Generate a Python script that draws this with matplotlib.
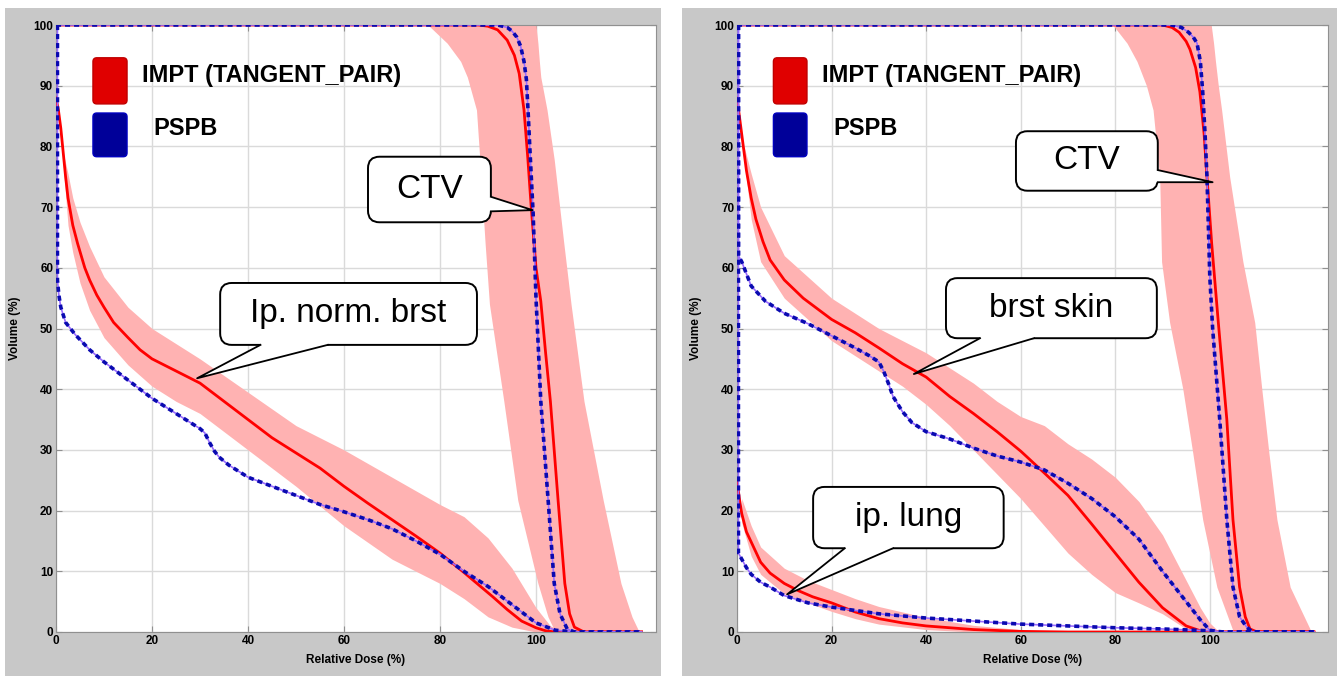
import matplotlib
matplotlib.use("Agg")
import matplotlib.pyplot as plt
from matplotlib import font_manager
from matplotlib.patches import FancyBboxPatch, Rectangle, Polygon

# ---- data (dose in %, volume in %) ----
# left panel: ipsilateral normal breast
L_BRST_DOSE_IMPT = [0, 0.5, 1, 1.5, 2, 2.5, 3.5, 4.5, 6, 7, 8.5, 10, 12, 15, 17.5, 20, 25, 30, 35, 40, 45, 50, 55, 60, 65, 70, 75, 80, 85, 88, 91, 94, 97, 100, 102, 104, 110, 122]
L_BRST_IMPT = [88, 86, 83, 79, 75, 71.5, 67, 64, 60, 58, 55.5, 53.5, 51, 48.5, 46.5, 45, 43, 41, 38, 35, 32, 29.5, 27, 24, 21.2, 18.5, 15.8, 13, 9.8, 7.8, 5.8, 3.7, 1.8, 0.7, 0.2, 0, 0, 0]
L_BRST_BAND_DOSE = [1.5, 2.5, 3.5, 5, 7, 10, 15, 20, 25, 30, 40, 50, 60, 70, 80, 85, 90, 95, 100, 103, 106]
L_BRST_UPPER = [79, 75.5, 71.5, 67.5, 63.5, 58.5, 53.5, 50, 47.5, 45, 39.5, 34, 30, 25.5, 21, 19, 15.5, 10.5, 4, 1, 0]
L_BRST_LOWER = [77, 67, 62.5, 57.5, 53, 48.5, 44, 40.5, 38, 36, 30, 24, 17.5, 12, 8, 5.5, 2.5, 0.8, 0, 0, 0]
L_BRST_DOSE_PSPB = [0.3, 0.3, 0.6, 1, 2, 4, 7, 10, 15, 20, 25, 28, 30, 31, 32, 33, 34, 36, 40, 45, 50, 55, 60, 65, 70, 75, 80, 85, 90, 95, 100, 104, 108, 122]
L_BRST_PSPB = [100, 58, 55.5, 53.5, 51, 49, 46.5, 44.5, 41.5, 38.5, 36, 34.5, 33.5, 32.8, 31.2, 29.8, 28.8, 27.5, 25.5, 24, 22.5, 21, 19.8, 18.5, 17, 15, 12.8, 10, 7.5, 4.5, 1.5, 0.3, 0, 0]

# left panel: CTV
L_CTV_DOSE_IMPT = [0, 88, 90, 92, 94, 95.5, 96.5, 97.5, 98.3, 99, 100, 101, 102, 103, 104.6, 106, 107, 108, 110, 122]
L_CTV_IMPT = [100, 100, 99.8, 99.2, 97.5, 95, 92, 86, 78, 70, 60, 54.5, 46, 38, 21.7, 8, 3, 0.8, 0, 0]
L_CTV_DOSE_PSPB = [0, 92, 94, 95, 96, 96.8, 97.5, 98, 98.4, 98.7, 99.4, 100, 101, 102.5, 103.8, 105, 106.5, 108, 122]
L_CTV_PSPB = [100, 100, 99.6, 99, 98, 96.5, 94, 91, 85, 80, 69, 55, 38, 22, 8, 3, 0.5, 0, 0]
L_CTV_BAND_VOL = [100, 97, 94, 91.4, 86, 77.8, 64, 54, 38, 21.7, 8, 2.5, 0]
L_CTV_BAND_LEFT = [77.5, 81.5, 84.3, 85.7, 87.6, 88.3, 89.4, 90.3, 93.3, 96.2, 100.4, 102.5, 104]
L_CTV_BAND_RIGHT = [100, 100.4, 100.7, 101, 102.3, 103.8, 105.8, 107.3, 110, 114, 117.7, 120, 121.5]

# right panel: breast skin
R_SKIN_DOSE_IMPT = [0, 0.5, 1, 2, 3, 4, 5.5, 7, 10, 14, 20, 25, 30, 35, 40, 45, 50, 55, 60, 65, 70, 75, 80, 85, 90, 95, 98, 100, 122]
R_SKIN_IMPT = [88, 85, 82, 76, 71.5, 68, 64.3, 61.3, 58, 55, 51.5, 49.3, 46.8, 44.2, 42, 38.8, 36, 33, 29.8, 26.2, 22.5, 17.8, 13, 8.2, 4, 1, 0.2, 0, 0]
R_SKIN_BAND_DOSE = [1.5, 3, 5, 10, 15, 20, 25, 30, 35, 40, 45, 50, 55, 60, 65, 70, 75, 80, 85, 90, 95, 98, 100, 102]
R_SKIN_UPPER = [80, 75.5, 70, 62, 58.5, 55, 52.5, 50, 48, 46, 43.5, 41, 38, 35.5, 34, 31, 28.5, 25.5, 21.5, 16, 8.5, 4, 1.5, 0]
R_SKIN_LOWER = [78, 68, 61, 55, 51.5, 48, 45.5, 43, 40.5, 37.5, 34, 30, 26, 22, 17.5, 13, 9.5, 6.5, 4.8, 3, 0.5, 0, 0, 0]
R_SKIN_DOSE_PSPB = [0.3, 0.3, 1, 2, 3, 6, 10, 15, 20, 25, 28, 30, 31, 32, 33, 35, 37, 40, 45, 50, 55, 60, 65, 70, 75, 80, 85, 90, 95, 98, 100, 102, 122]
R_SKIN_PSPB = [100, 62, 61, 59, 57, 54.5, 52.5, 50.8, 48.8, 46.8, 45.5, 44.5, 43, 41, 38.8, 36.3, 34.5, 33, 31.8, 30.3, 29, 28, 26.7, 24.5, 22, 19, 15.3, 10, 5, 2, 0.3, 0, 0]

# right panel: ipsilateral lung
R_LUNG_DOSE_IMPT = [0, 0.5, 1, 2, 3.5, 5, 7, 10, 13, 16, 20, 25, 30, 35, 40, 50, 60, 70, 122]
R_LUNG_IMPT = [25, 22, 19.5, 16.5, 14, 11.5, 9.7, 8, 6.8, 5.8, 4.8, 3.3, 2.2, 1.5, 1, 0.4, 0.1, 0, 0]
R_LUNG_BAND_DOSE = [1, 3, 5, 10, 15, 20, 25, 30, 40, 50, 60, 70]
R_LUNG_UPPER = [22, 17.5, 14, 10.5, 8.5, 7, 5.5, 4.2, 2.4, 1.1, 0.4, 0]
R_LUNG_LOWER = [18, 12.5, 9.5, 6.3, 4.8, 3.4, 2.2, 1.3, 0.4, 0, 0, 0]
R_LUNG_DOSE_PSPB = [0.3, 0.3, 1, 2, 3, 5, 7, 10, 15, 20, 30, 40, 50, 60, 70, 80, 90, 100, 103, 122]
R_LUNG_PSPB = [100, 13, 12, 10.6, 9.5, 8.2, 7.4, 6, 4.8, 4.1, 3, 2.3, 1.8, 1.3, 1, 0.7, 0.5, 0.2, 0, 0]

# right panel: CTV
R_CTV_DOSE_IMPT = [0, 90, 92, 93.5, 95, 95.8, 97, 97.9, 98.8, 99.4, 100.4, 101.8, 103.6, 104.9, 106.3, 107.5, 108.5, 110, 122]
R_CTV_IMPT = [100, 100, 99.6, 98.8, 97.3, 96, 93, 89, 82, 75, 64, 51, 35, 18.5, 7.4, 2.5, 0.5, 0, 0]
R_CTV_DOSE_PSPB = [0, 92, 94, 95.5, 96.5, 97.3, 98, 98.5, 99, 99.4, 100, 100.6, 102.1, 103.6, 104.9, 106.3, 107.8, 109, 122]
R_CTV_PSPB = [100, 100, 99.6, 98.8, 98, 97, 94, 89, 82, 75, 58.5, 50, 35, 18.5, 7.4, 2.5, 0.8, 0, 0]
R_CTV_BAND_VOL = [100, 97, 94, 90, 86, 75, 61, 51, 40, 29.5, 18.5, 7.4, 0]
R_CTV_BAND_LEFT = [79.5, 82.5, 84.6, 86.6, 88, 89.4, 89.8, 91.5, 94.3, 96.4, 98.5, 101.5, 105]
R_CTV_BAND_RIGHT = [100.3, 100.8, 101.2, 101.8, 102.5, 104.2, 107, 109.5, 111, 112.5, 114.2, 117, 121.5]

X_TICKS = [0, 20, 40, 60, 80, 100]
Y_TICKS = list(range(0, 101, 10))
LEGEND_LABELS = ["IMPT (TANGENT_PAIR)", "PSPB"]

RED = "#ff0000"
BAND = "#ffb2b2"
BLUE = "#0a0ab0"
VIOLET = "#9a6cff"
ASPECT = 4.79 / 6.07  # x-unit px / y-unit px

names = {f.name for f in font_manager.fontManager.ttflist}
NARROW = "Liberation Sans Narrow" if "Liberation Sans Narrow" in names else "Liberation Sans"
plt.rcParams["font.family"] = ["Liberation Sans", "DejaVu Sans"]


def pspb(ax, x, y):
    ax.plot(x, y, color=VIOLET, lw=1.2, zorder=4)
    ax.plot(x, y, color=BLUE, lw=2.6, dashes=(1.4, 1.1), zorder=4)


def callout(ax, text, box, tip, base, side):
    x0, x1, y0, y1 = box
    ax.add_patch(FancyBboxPatch((x0, y0), x1 - x0, y1 - y0,
                                boxstyle="round,pad=0,rounding_size=2.4",
                                mutation_aspect=ASPECT, fc="white", ec="black",
                                lw=1.4, zorder=6))
    if side == "bottom":
        a, b = (base[0], y0), (base[1], y0)
        cover = [(base[0], y0 + 0.8), a, tip, b, (base[1], y0 + 0.8)]
    else:
        a, b = (x1, base[1]), (x1, base[0])
        cover = [(x1 - 0.6, base[1]), a, tip, b, (x1 - 0.6, base[0])]
    ax.add_patch(Polygon(cover, closed=True, fc="white", ec="none", zorder=7))
    ax.plot([a[0], tip[0], b[0]], [a[1], tip[1], b[1]], color="black", lw=1.3, zorder=8)
    ax.text((x0 + x1) / 2, (y0 + y1) / 2, text, fontsize=24, ha="center",
            va="center", zorder=9)


def setup(ax):
    ax.set_xlim(0, 125)
    ax.set_ylim(0, 100)
    ax.set_xticks(X_TICKS)
    ax.set_yticks(Y_TICKS)
    ax.grid(color="#dadada", lw=1)
    ax.set_axisbelow(True)
    ax.tick_params(direction="in", length=4, color="#909090", right=True, top=True,
                   labelsize=8.5, pad=2)
    for lab in ax.get_xticklabels() + ax.get_yticklabels():
        lab.set_fontweight("bold")
        lab.set_family(NARROW)
    for sp in ax.spines.values():
        sp.set_color("#909090")
    ax.set_xlabel("Relative Dose (%)", fontsize=8.5, fontweight="bold", family=NARROW, labelpad=5)
    ax.set_ylabel("Volume (%)", fontsize=8.5, fontweight="bold", family=NARROW, labelpad=9)
    # legend swatches
    ax.add_patch(FancyBboxPatch((7.7, 87), 7.1, 7.6, boxstyle="round,pad=0,rounding_size=0.8",
                                mutation_aspect=ASPECT, fc="#e00000", ec="#c00000", zorder=5))
    ax.add_patch(FancyBboxPatch((7.7, 78.3), 7.1, 7.2, boxstyle="round,pad=0,rounding_size=0.8",
                                mutation_aspect=ASPECT, fc="#000099", ec="#0000c0", zorder=5))
    ax.text(18.0, 91.6, LEGEND_LABELS[0], fontsize=17, fontweight="bold", va="center", zorder=5)
    ax.text(20.3, 83.0, LEGEND_LABELS[1], fontsize=17, fontweight="bold", va="center", zorder=5)


fig = plt.figure(figsize=(13.41, 6.82), dpi=100)
fig.add_artist(Rectangle((5 / 1341, 6 / 682), 656 / 1341, 668 / 682,
                         transform=fig.transFigure, fc="#c8c8c8", ec="none", zorder=0))
fig.add_artist(Rectangle((682 / 1341, 6 / 682), 655 / 1341, 668 / 682,
                         transform=fig.transFigure, fc="#c8c8c8", ec="none", zorder=0))

ax1 = fig.add_axes([56 / 1341, 50 / 682, 600 / 1341, 607 / 682])
ax2 = fig.add_axes([737 / 1341, 50 / 682, 591 / 1341, 607 / 682])

# left panel
ax1.fill_between(L_BRST_BAND_DOSE, L_BRST_LOWER, L_BRST_UPPER, color=BAND, lw=0, zorder=2)
ax1.fill_betweenx(L_CTV_BAND_VOL, L_CTV_BAND_LEFT, L_CTV_BAND_RIGHT, color=BAND, lw=0, zorder=2)
ax1.plot(L_BRST_DOSE_IMPT, L_BRST_IMPT, color=RED, lw=2, zorder=3)
ax1.plot(L_CTV_DOSE_IMPT, L_CTV_IMPT, color=RED, lw=2, zorder=3)
pspb(ax1, L_BRST_DOSE_PSPB, L_BRST_PSPB)
pspb(ax1, L_CTV_DOSE_PSPB, L_CTV_PSPB)
setup(ax1)
callout(ax1, "CTV", (65.0, 90.6, 67.5, 78.3), (99.3, 69.5), (69.3, 71.7), "right")
callout(ax1, "Ip. norm. brst", (34.2, 87.7, 47.3, 57.5), (29.4, 41.8), (42.6, 56.6), "bottom")

# right panel
ax2.fill_between(R_SKIN_BAND_DOSE, R_SKIN_LOWER, R_SKIN_UPPER, color=BAND, lw=0, zorder=2)
ax2.fill_between(R_LUNG_BAND_DOSE, R_LUNG_LOWER, R_LUNG_UPPER, color=BAND, lw=0, zorder=2)
ax2.fill_betweenx(R_CTV_BAND_VOL, R_CTV_BAND_LEFT, R_CTV_BAND_RIGHT, color=BAND, lw=0, zorder=2)
ax2.plot(R_SKIN_DOSE_IMPT, R_SKIN_IMPT, color=RED, lw=2, zorder=3)
ax2.plot(R_LUNG_DOSE_IMPT, R_LUNG_IMPT, color=RED, lw=2, zorder=3)
ax2.plot(R_CTV_DOSE_IMPT, R_CTV_IMPT, color=RED, lw=2, zorder=3)
pspb(ax2, R_SKIN_DOSE_PSPB, R_SKIN_PSPB)
pspb(ax2, R_LUNG_DOSE_PSPB, R_LUNG_PSPB)
pspb(ax2, R_CTV_DOSE_PSPB, R_CTV_PSPB)
setup(ax2)
callout(ax2, "CTV", (59.0, 89.0, 72.7, 82.5), (100.6, 74.1), (74.1, 76.1), "right")
callout(ax2, "brst skin", (44.2, 88.8, 48.4, 58.3), (37.4, 42.5), (51.4, 62.8), "bottom")
callout(ax2, "ip. lung", (16.1, 56.4, 13.8, 23.9), (10.6, 6.2), (22.8, 33.0), "bottom")

fig.savefig("out.png", dpi=100)
